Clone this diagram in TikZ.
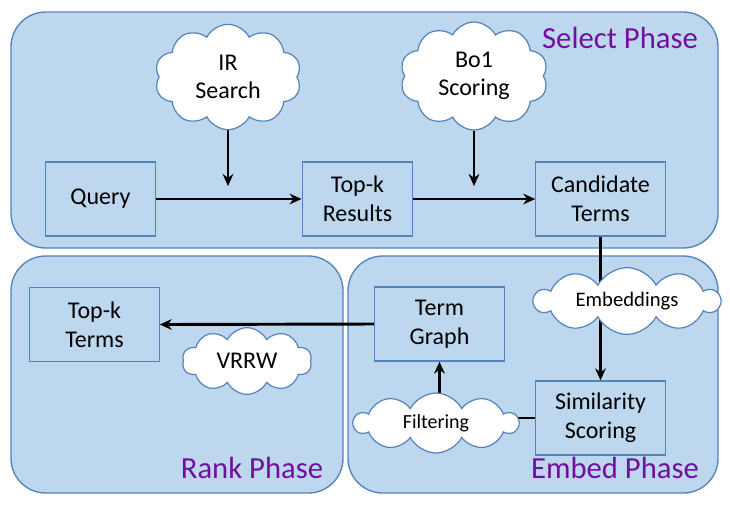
\documentclass[tikz,border=0pt]{standalone}
\usepackage{fontspec}
\setmainfont{Carlito}
\usetikzlibrary{shapes.symbols}
\usetikzlibrary{arrows.meta}
\definecolor{panelblue}{RGB}{189,215,238}
\definecolor{edgeblue}{RGB}{84,130,186}
\definecolor{phasepurple}{RGB}{115,15,160}
\pgfdeclarelayer{panels}
\pgfdeclarelayer{links}
\pgfsetlayers{panels,links,main}

\begin{document}
\begin{tikzpicture}[x=0.75pt,y=-0.75pt,
    panel/.style={fill=panelblue,draw=edgeblue,line width=1pt,rounded corners=26pt},
    stage/.style={rectangle,fill=panelblue,draw=edgeblue,line width=0.9pt,
        align=center,font=\fontsize{18}{21.5}\selectfont,inner sep=0pt},
    puff/.style={cloud,cloud puffs=10,cloud puff arc=125,fill=white,draw=edgeblue,
        line width=0.9pt,align=center,inner sep=0pt,font=\fontsize{18}{21.5}\selectfont},
    phase/.style={text=phasepurple,font=\fontsize{23}{26}\selectfont,inner sep=0pt},
    link/.style={line width=2.2pt},
    flow/.style={link,-{Stealth[length=9pt,width=8pt]}}]
    \useasboundingbox (0,0) rectangle (730,504);
    \begin{pgfonlayer}{panels}
        \draw[panel] (11,12) rectangle (718,248);
        \draw[panel] (11,256) rectangle (343,493);
        \draw[panel] (348,256) rectangle (718,493);
    \end{pgfonlayer}
    % select phase
    \node[stage,minimum width=82pt,minimum height=55.5pt] (query) at (100.5,199) {Query};
    \node[stage,minimum width=83pt,minimum height=55.5pt] (topres) at (357.5,199) {Top-k\\Results};
    \node[stage,minimum width=97pt,minimum height=55.5pt] (cand) at (600.5,199) {Candidate\\Terms};
    \node[puff,aspect=1.4,minimum width=110pt,minimum height=79pt] (irs) at (228,77) {IR\\Search};
    \node[puff,aspect=1.37,minimum width=111pt,minimum height=81pt] (boone) at (474,76) {Bo1\\Scoring};
    \coordinate (irend) at (228,186);
    \coordinate (boend) at (474,186);
    \node[phase] (selph) at (620,38) {Select Phase};
    % rank phase
    \node[stage,minimum width=97pt,minimum height=56pt] (topterms) at (94.5,324.5) {Top-k\\Terms};
    \node[puff,aspect=1.9,minimum width=97pt,minimum height=50pt] (vrrw) at (247,361) {VRRW};
    \node[phase] (rankph) at (252,468) {Rank Phase};
    % embed phase
    \node[stage,minimum width=97pt,minimum height=55.5pt] (tgraph) at (439.5,324) {Term\\Graph};
    \node[stage,minimum width=97pt,minimum height=55.5pt] (simsc) at (600.5,418) {Similarity\\Scoring};
    \node[puff,aspect=3.5,minimum width=139pt,minimum height=40pt,
        font=\fontsize{15.5}{18}\selectfont] (embd) at (627,301) {Embeddings};
    \node[puff,aspect=2.7,minimum width=123pt,minimum height=45pt,
        font=\fontsize{15}{18}\selectfont] (filt) at (436,423) {Filtering};
    \node[phase] (embph) at (615,468) {Embed Phase};
    \begin{pgfonlayer}{links}
        \draw[flow] (query) -- (topres);
        \draw[flow] (topres) -- (cand);
        \draw[flow] (irs) -- (irend);
        \draw[flow] (boone) -- (boend);
        \draw[flow] (cand.south) -- (simsc.north);
        \draw[link] (simsc.west) -- (filt.center |- simsc.west);
        \draw[flow] (tgraph.south |- filt.center) -- (tgraph.south);
        \draw[flow] (tgraph.west) -- (topterms.east);
    \end{pgfonlayer}
\end{tikzpicture}
\end{document}
